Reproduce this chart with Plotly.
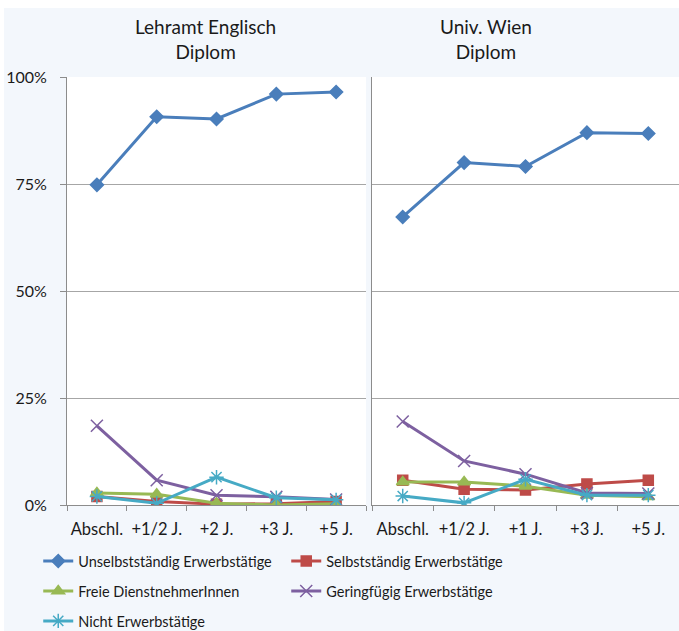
import plotly.graph_objects as go

cats_left = ["Abschl.", "+1/2 J.", "+2 J.", "+3 J.", "+5 J."]
cats_right = ["Abschl.", "+1/2 J.", "+1 J.", "+3 J.", "+5 J."]

series_names = ["Unselbstständig Erwerbstätige", "Selbstständig Erwerbstätige",
                "Freie DienstnehmerInnen", "Geringfügig Erwerbstätige",
                "Nicht Erwerbstätige"]

left_unselbst = [0.748, 0.907, 0.902, 0.960, 0.965]
left_selbst = [0.020, 0.008, 0.002, 0.003, 0.008]
left_freie = [0.028, 0.025, 0.004, 0.000, 0.003]
left_gering = [0.185, 0.058, 0.023, 0.019, 0.013]
left_nicht = [0.020, 0.004, 0.065, 0.017, 0.012]

right_unselbst = [0.673, 0.800, 0.791, 0.870, 0.868]
right_selbst = [0.058, 0.037, 0.035, 0.049, 0.058]
right_freie = [0.054, 0.054, 0.044, 0.023, 0.019]
right_gering = [0.195, 0.103, 0.072, 0.028, 0.027]
right_nicht = [0.021, 0.005, 0.060, 0.023, 0.023]

titles = ["Lehramt Englisch<br>Diplom", "Univ. Wien<br>Diplom"]
ytick_vals = [0, 0.25, 0.5, 0.75, 1.0]
ytick_text = ["0%", "25%", "50%", "75%", "100%"]

colors = ["#4A7EBB", "#BE4B48", "#98B954", "#7D60A0", "#46AAC5"]
symbols = ["diamond", "square", "triangle-up", "x-thin-open", "asterisk-open"]
msizes = [10, 10, 11, 12, 12]
legend_ids = ["legend", "legend", "legend2", "legend2", "legend3"]

FONT = "Lato, sans-serif"
TXT = "#1a1a1a"
fig = go.Figure()

left_data = [left_unselbst, left_selbst, left_freie, left_gering, left_nicht]
right_data = [right_unselbst, right_selbst, right_freie, right_gering, right_nicht]

for i, name in enumerate(series_names):
    mk = dict(symbol=symbols[i], size=msizes[i], color=colors[i],
              line=dict(color=colors[i], width=1.5))
    fig.add_trace(go.Scatter(x=cats_left, y=left_data[i], name=name, mode="lines+markers",
                             line=dict(color=colors[i], width=3), marker=mk,
                             xaxis="x", yaxis="y", legend=legend_ids[i], showlegend=True))
    fig.add_trace(go.Scatter(x=cats_right, y=right_data[i], name=name, mode="lines+markers",
                             line=dict(color=colors[i], width=3), marker=mk,
                             xaxis="x2", yaxis="y2", showlegend=False))

axis_common = dict(showline=True, linecolor="#8C8C8C", linewidth=1, mirror=False,
                   automargin=False)
xcommon = dict(type="category", range=[-0.5, 4.5], tickson="boundaries", ticks="outside",
               ticklen=5, tickcolor="#8C8C8C", showgrid=False, zeroline=False,
               tickangle=0, ticklabelstandoff=9,
               tickfont=dict(family=FONT, size=16.5, color=TXT), **axis_common)

legend_common = dict(orientation="h", x=-0.047, xanchor="left", yanchor="middle",
                     entrywidth=203, entrywidthmode="pixels", bgcolor="rgba(0,0,0,0)",
                     font=dict(family=FONT, size=14.5, color=TXT))

fig.update_layout(
    width=679, height=631,
    margin=dict(l=67, r=0, t=77, b=126, autoexpand=False),
    paper_bgcolor="#F3F7FC",
    plot_bgcolor="rgba(0,0,0,0)",
    font=dict(family=FONT, size=15, color=TXT),
    xaxis=dict(domain=[0, 0.4886], **xcommon),
    xaxis2=dict(domain=[0.4984, 1.0], anchor="y2", **xcommon),
    yaxis=dict(range=[0, 1], tickvals=ytick_vals, ticktext=ytick_text, ticks="outside",
               ticklen=6, tickcolor="#8C8C8C", showgrid=True, gridcolor="#A6A6A6",
               gridwidth=1, zeroline=False, ticklabelstandoff=10,
               tickfont=dict(family=FONT, size=16, color=TXT), **axis_common),
    yaxis2=dict(range=[0, 1], tickvals=ytick_vals, showticklabels=False, ticks="",
                showgrid=True, gridcolor="#A6A6A6", gridwidth=1, zeroline=False,
                anchor="x2", **axis_common),
    legend=dict(y=-0.131, **legend_common),
    legend2=dict(y=-0.201, **legend_common),
    legend3=dict(y=-0.271, **legend_common),
)

for xr, yr in [("x domain", "y domain"), ("x2 domain", "y2 domain")]:
    fig.add_shape(type="rect", xref=xr, yref=yr, x0=0, x1=1, y0=0, y1=1,
                  fillcolor="white", line=dict(width=0), layer="below")
fig.add_shape(type="rect", xref="paper", yref="paper", x0=-0.2, x1=1.1, y0=1.161, y1=1.3,
              fillcolor="white", line=dict(width=0), layer="below")
fig.add_shape(type="rect", xref="paper", yref="paper", x0=-0.2, x1=-0.1030, y0=-0.4, y1=1.3,
              fillcolor="white", line=dict(width=0), layer="below")

title_x = [205, 486]
for t, px in zip(titles, title_x):
    fig.add_annotation(text=t, xref="paper", yref="paper", x=(px - 67) / 612,
                       y=(505 - 39) / 428, xanchor="center", yanchor="middle",
                       showarrow=False, font=dict(family=FONT, size=19, color=TXT))

fig.write_html("out.html", post_script="document.body.style.margin='0';",
               config={"displayModeBar": False})
